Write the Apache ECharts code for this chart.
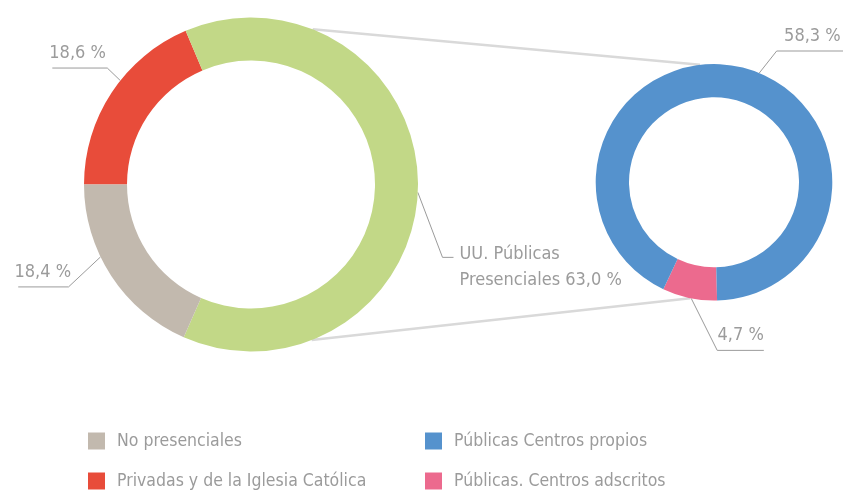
<!DOCTYPE html>
<html>
<head>
<meta charset="utf-8">
<script src="https://cdn.jsdelivr.net/npm/echarts@6/dist/echarts.min.js"></script>
<style>
  html, body { margin: 0; padding: 0; background: #fff; }
  #chart { width: 843px; height: 492px; }
</style>
</head>
<body>
<div id="chart"></div>
<script>
// datos: reparto del alumnado
const leftNames = ['Privadas y de la Iglesia Católica', 'UU. Públicas Presenciales', 'No presenciales']
const leftValues = [18.6, 63.0, 18.4]
const leftLabelPrefix = ['', 'UU. Públicas\nPresenciales ', '']

const rightNames = ['Públicas. Centros adscritos', 'Públicas Centros propios']
const rightValues = [4.7, 58.3]

const legendLeft = ['No presenciales', 'Privadas y de la Iglesia Católica']
const legendRight = ['Públicas Centros propios', 'Públicas. Centros adscritos']

const leftColors = ['#e84c3a', '#c2d887', '#c2b9ae']
const rightColors = ['#ec6a8e', '#5592cd']

const FONT = "'Liberation Sans Narrow', 'DejaVu Sans Condensed', 'Roboto', sans-serif"
const TXT = '#9b9b9b'

// geometria de los dos anillos
const L = { cx: 251, cy: 184.5, r0: 124, r1: 167 }
const R = { cx: 714, cy: 182.3, r0: 85, r1: 118.3 }

// guias de las etiquetas (angulo desde arriba, sentido horario)
const leftGuides = [
    { ang: 308.5, elbow: [-13, -12.5], tail: -55, dx: -3, dy: -15, align: 'left', va: 'middle' },
    { ang: 92.7, elbow: [24.7, 65], tail: 11, dx: 6, dy: -16, align: 'left', va: 'top' },
    { ang: 244.3, elbow: [-32, 30], tail: -50.3, dx: -3.7, dy: -15, align: 'left', va: 'middle' }
]
const rightGuides = [
    { ang: 191.1, elbow: [26, 52], tail: 46.6, dx: 0, dy: -15, align: 'right', va: 'middle' },
    { ang: 22.5, elbow: [17.4, -22], tail: 66.6, dx: -2.6, dy: -15, align: 'right', va: 'middle' }
]

const ringPt = (geo, ang) => {
    const a = ang * Math.PI / 180
    return [geo.cx + geo.r1 * Math.sin(a), geo.cy - geo.r1 * Math.cos(a)]
}

const makeLayout = (geo, guides) => (params) => {
    const g = guides[params.dataIndex]
    const p0 = ringPt(geo, g.ang)
    const p1 = [p0[0] + g.elbow[0], p0[1] + g.elbow[1]]
    const p2 = [p1[0] + g.tail, p1[1]]
    return {
        x: p2[0] + g.dx,
        y: p2[1] + g.dy,
        align: g.align,
        verticalAlign: g.va,
        labelLinePoints: [p0, p1, p2]
    }
}

const fmtVal = (v) => v.toFixed(1).replace('.', ',') + ' %'

const chart = echarts.init(document.getElementById('chart'))

const baseLabel = {
    show: true,
    position: 'outside',
    color: TXT,
    fontFamily: FONT,
    fontSize: 18,
    lineHeight: 26
}
const baseLine = {
    show: true,
    smooth: false,
    lineStyle: { color: '#9b9b9b', width: 1 }
}

const legendCommon = {
    orient: 'vertical',
    top: 432,
    padding: 0,
    itemGap: 22,
    itemWidth: 17,
    itemHeight: 17,
    icon: 'rect',
    selectedMode: false,
    textStyle: {
        color: TXT,
        fontFamily: FONT,
        fontSize: 17.5,
        lineHeight: 17,
        padding: [0, 0, 0, 7]
    }
}

const topA = ringPt(L, 21.7), topB = ringPt(R, -6.8)
const botA = ringPt(L, 158.7), botB = ringPt(R, 191.6)

const option = {
    backgroundColor: '#ffffff',
    animation: false,
    graphic: [
        {
            type: 'line', z: 0, silent: true,
            shape: { x1: topA[0], y1: topA[1], x2: topB[0], y2: topB[1] },
            style: { stroke: '#d9d9d9', lineWidth: 2.5 }
        },
        {
            type: 'line', z: 0, silent: true,
            shape: { x1: botA[0], y1: botA[1], x2: botB[0], y2: botB[1] },
            style: { stroke: '#d9d9d9', lineWidth: 2.5 }
        }
    ],
    legend: [
        Object.assign({ left: 88, data: legendLeft }, legendCommon),
        Object.assign({ left: 425, data: legendRight }, legendCommon)
    ],
    series: [
        {
            type: 'pie',
            center: [L.cx, L.cy],
            radius: [L.r0, L.r1],
            startAngle: 180,
            clockwise: true,
            avoidLabelOverlap: false,
            emphasis: { disabled: true },
            itemStyle: { borderWidth: 0 },
            label: Object.assign({}, baseLabel, {
                formatter: (p) => leftLabelPrefix[p.dataIndex] + fmtVal(p.value)
            }),
            labelLine: baseLine,
            labelLayout: makeLayout(L, leftGuides),
            data: leftNames.map((n, i) => ({
                name: n, value: leftValues[i], itemStyle: { color: leftColors[i] }
            }))
        },
        {
            type: 'pie',
            center: [R.cx, R.cy],
            radius: [R.r0, R.r1],
            startAngle: -88.5,
            clockwise: true,
            avoidLabelOverlap: false,
            emphasis: { disabled: true },
            itemStyle: { borderWidth: 0 },
            label: Object.assign({}, baseLabel, {
                formatter: (p) => fmtVal(p.value)
            }),
            labelLine: baseLine,
            labelLayout: makeLayout(R, rightGuides),
            data: rightNames.map((n, i) => ({
                name: n, value: rightValues[i], itemStyle: { color: rightColors[i] }
            }))
        }
    ]
}

chart.setOption(option)
</script>
</body>
</html>
